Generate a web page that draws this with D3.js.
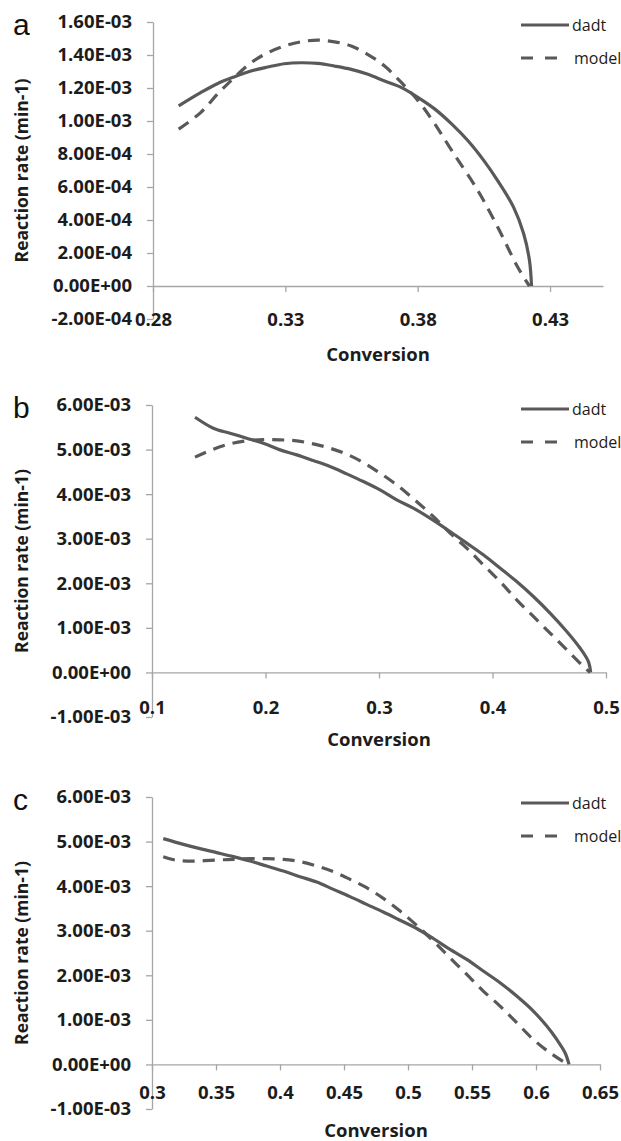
<!DOCTYPE html>
<html>
<head>
<meta charset="utf-8">
<script src="https://cdn.jsdelivr.net/npm/d3@7"></script>
<style>
  html, body { margin: 0; padding: 0; background: #fff; }
  svg { display: block; }
  .tick text { font-family: "Open Sans", sans-serif; font-weight: 700; fill: #1c1c1c; }
</style>
</head>
<body>
<svg id="chart" width="621" height="1141"></svg>
<script>
// panel a: [conversion, reaction rate]
const aDadt = [
  [0.2897, 1.092e-3], [0.2980, 1.172e-3], [0.3043, 1.226e-3], [0.3106, 1.267e-3],
  [0.3170, 1.303e-3], [0.3233, 1.327e-3], [0.3296, 1.347e-3], [0.3359, 1.353e-3],
  [0.3423, 1.349e-3], [0.3486, 1.333e-3], [0.3549, 1.313e-3], [0.3612, 1.283e-3],
  [0.3675, 1.242e-3], [0.3739, 1.202e-3], [0.3802, 1.142e-3], [0.3865, 1.072e-3],
  [0.3929, 0.981e-3], [0.3990, 0.880e-3], [0.4050, 0.760e-3], [0.4102, 0.639e-3],
  [0.4162, 0.478e-3], [0.4200, 0.318e-3], [0.4222, 0.157e-3], [0.4230, 0]
];
const aModel = [
  [0.2897, 0.951e-3], [0.2980, 1.051e-3], [0.3043, 1.162e-3], [0.3106, 1.262e-3],
  [0.3170, 1.353e-3], [0.3233, 1.413e-3], [0.3296, 1.454e-3], [0.3359, 1.480e-3],
  [0.3423, 1.490e-3], [0.3486, 1.480e-3], [0.3549, 1.454e-3], [0.3612, 1.403e-3],
  [0.3675, 1.333e-3], [0.3739, 1.232e-3], [0.3802, 1.122e-3], [0.3865, 0.981e-3],
  [0.3929, 0.820e-3], [0.4027, 0.579e-3], [0.4102, 0.358e-3], [0.4177, 0.117e-3],
  [0.4222, 0]
];
const aYTicks = [-2e-4, 0, 2e-4, 4e-4, 6e-4, 8e-4, 10e-4, 12e-4, 14e-4, 16e-4];
const aXTicks = [0.28, 0.33, 0.38, 0.43];

// panel b
const bDadt = [
  [0.1379, 5.726e-3], [0.1540, 5.480e-3], [0.1687, 5.368e-3], [0.1834, 5.256e-3],
  [0.1981, 5.143e-3], [0.2128, 4.993e-3], [0.2275, 4.881e-3], [0.2421, 4.753e-3],
  [0.2568, 4.619e-3], [0.2715, 4.455e-3], [0.2862, 4.283e-3], [0.3009, 4.096e-3],
  [0.3156, 3.872e-3], [0.3302, 3.686e-3], [0.3449, 3.462e-3], [0.3626, 3.161e-3],
  [0.3773, 2.901e-3], [0.3919, 2.639e-3], [0.4066, 2.341e-3], [0.4213, 2.040e-3],
  [0.4360, 1.704e-3], [0.4507, 1.332e-3], [0.4654, 0.919e-3], [0.4771, 0.547e-3],
  [0.4844, 0.247e-3], [0.4865, 0]
];
const bModel = [
  [0.1379, 4.830e-3], [0.1540, 5.009e-3], [0.1687, 5.128e-3], [0.1834, 5.195e-3],
  [0.1981, 5.224e-3], [0.2128, 5.218e-3], [0.2275, 5.195e-3], [0.2421, 5.128e-3],
  [0.2568, 5.031e-3], [0.2715, 4.897e-3], [0.2862, 4.709e-3], [0.3009, 4.471e-3],
  [0.3156, 4.209e-3], [0.3302, 3.900e-3], [0.3478, 3.500e-3], [0.3626, 3.126e-3],
  [0.3773, 2.789e-3], [0.3919, 2.415e-3], [0.4066, 2.040e-3], [0.4213, 1.630e-3],
  [0.4360, 1.256e-3], [0.4507, 0.883e-3], [0.4654, 0.509e-3], [0.4800, 0.135e-3],
  [0.4859, 0]
];
const bYTicks = [-1e-3, 0, 1e-3, 2e-3, 3e-3, 4e-3, 5e-3, 6e-3];
const bXTicks = [0.1, 0.2, 0.3, 0.4, 0.5];

// panel c
const cDadt = [
  [0.3088, 5.066e-3], [0.3245, 4.938e-3], [0.3375, 4.841e-3], [0.3505, 4.752e-3],
  [0.3635, 4.662e-3], [0.3766, 4.563e-3], [0.3896, 4.451e-3], [0.4026, 4.339e-3],
  [0.4156, 4.213e-3], [0.4287, 4.092e-3], [0.4417, 3.928e-3], [0.4547, 3.764e-3],
  [0.4677, 3.591e-3], [0.4807, 3.419e-3], [0.4938, 3.235e-3], [0.5068, 3.050e-3],
  [0.5198, 2.825e-3], [0.5328, 2.581e-3], [0.5459, 2.357e-3], [0.5588, 2.095e-3],
  [0.5719, 1.833e-3], [0.5849, 1.534e-3], [0.5979, 1.197e-3], [0.6084, 0.860e-3],
  [0.6162, 0.561e-3], [0.6227, 0.262e-3], [0.6258, 0]
];
const cModel = [
  [0.3088, 4.662e-3], [0.3180, 4.586e-3], [0.3323, 4.563e-3], [0.3505, 4.586e-3],
  [0.3635, 4.602e-3], [0.3766, 4.617e-3], [0.3896, 4.617e-3], [0.4026, 4.602e-3],
  [0.4156, 4.550e-3], [0.4287, 4.451e-3], [0.4417, 4.325e-3], [0.4547, 4.153e-3],
  [0.4677, 3.966e-3], [0.4807, 3.726e-3], [0.4938, 3.440e-3], [0.5068, 3.120e-3],
  [0.5198, 2.768e-3], [0.5328, 2.395e-3], [0.5459, 2.020e-3], [0.5588, 1.646e-3],
  [0.5719, 1.309e-3], [0.5849, 0.936e-3], [0.5979, 0.561e-3], [0.6109, 0.262e-3],
  [0.6240, 0.020e-3], [0.6258, 0]
];
const cYTicks = [-1e-3, 0, 1e-3, 2e-3, 3e-3, 4e-3, 5e-3, 6e-3];
const cXTicks = [0.3, 0.35, 0.4, 0.45, 0.5, 0.55, 0.6, 0.65];

const seriesNames = ['dadt', 'model'];

const LINE = '#595959';
const AXIS = '#a6a6a6';
const TEXT = '#1c1c1c';
const FONT = '"Open Sans", sans-serif';

// layout of each panel in page pixels
const panels = [
  { letter: 'a', dadt: aDadt, model: aModel, yTicks: aYTicks, xTicks: aXTicks,
    xDomain: [0.28, 0.45], left: 153, right: 603, top: 22, bottom: 319,
    labelDy: 34, titleY: 355, legendY: 25, fmt: d3.format('.2f') },
  { letter: 'b', dadt: bDadt, model: bModel, yTicks: bYTicks, xTicks: bXTicks,
    xDomain: [0.1, 0.5], left: 152, right: 606, top: 405, bottom: 717,
    labelDy: 35, titleY: 740, legendY: 409, fmt: d3.format('.1f') },
  { letter: 'c', dadt: cDadt, model: cModel, yTicks: cYTicks, xTicks: cXTicks,
    xDomain: [0.3, 0.65], left: 152, right: 600, top: 797, bottom: 1109,
    labelDy: 28, titleY: 1131, legendY: 803, fmt: d3.format('~g') }
];

function sci(v) {
  if (Math.abs(v) < 1e-12) return '0.00E+00';
  const [m, e] = v.toExponential(2).split('e');
  const n = +e;
  return m + 'E' + (n < 0 ? '-' : '+') + String(Math.abs(n)).padStart(2, '0');
}

const svg = d3.select('#chart');

panels.forEach(p => {
  const g = svg.append('g');
  const yDomain = [p.yTicks[0], p.yTicks[p.yTicks.length - 1]];
  const x = d3.scaleLinear().domain(p.xDomain).range([p.left, p.right]);
  const y = d3.scaleLinear().domain(yDomain).range([p.bottom, p.top]);

  // y axis
  const yAxis = g.append('g')
    .attr('transform', `translate(${p.left},0)`)
    .call(d3.axisLeft(y).tickValues(p.yTicks).tickFormat(sci).tickSizeInner(6).tickSizeOuter(0).tickPadding(15));
  yAxis.select('.domain').attr('stroke', AXIS).attr('stroke-width', 1.3);
  yAxis.selectAll('.tick line').attr('stroke', AXIS).attr('stroke-width', 1.3);
  yAxis.selectAll('.tick text').attr('font-size', 18.5).attr('fill', TEXT);

  // x axis sits at zero, labels low
  const xAxis = g.append('g')
    .attr('transform', `translate(0,${y(0)})`)
    .call(d3.axisBottom(x).tickValues(p.xTicks).tickFormat(p.fmt).tickSizeInner(6).tickSizeOuter(0));
  xAxis.select('.domain').attr('stroke', AXIS).attr('stroke-width', 1.3);
  xAxis.selectAll('.tick line').attr('stroke', AXIS).attr('stroke-width', 1.3);
  xAxis.selectAll('.tick text')
    .attr('y', p.labelDy).attr('dy', '0.35em')
    .attr('font-size', 18.5).attr('fill', TEXT);

  const line = d3.line()
    .x(d => x(d[0]))
    .y(d => y(d[1]))
    .curve(d3.curveCatmullRom.alpha(0.5));

  g.append('path').datum(p.model)
    .attr('d', line)
    .attr('fill', 'none')
    .attr('stroke', LINE)
    .attr('stroke-width', 3.2)
    .attr('stroke-dasharray', '12,8');

  g.append('path').datum(p.dadt)
    .attr('d', line)
    .attr('fill', 'none')
    .attr('stroke', LINE)
    .attr('stroke-width', 3.2);

  // axis titles
  g.append('text')
    .attr('x', (p.left + p.right) / 2)
    .attr('y', p.titleY)
    .attr('dy', '0.35em')
    .attr('text-anchor', 'middle')
    .attr('font-family', FONT)
    .attr('font-weight', 700)
    .attr('font-size', 18.5)
    .attr('fill', TEXT)
    .text('Conversion');

  g.append('text')
    .attr('transform', `translate(22,${(p.top + p.bottom) / 2}) rotate(-90)`)
    .attr('dy', '0.35em')
    .attr('text-anchor', 'middle')
    .attr('font-family', FONT)
    .attr('font-weight', 700)
    .attr('font-size', 17.5)
    .attr('fill', TEXT)
    .text('Reaction rate (min-1)');

  // panel letter
  g.append('text')
    .attr('x', 13)
    .attr('y', p.top + 2)
    .attr('dy', '0.35em')
    .attr('font-family', '"Liberation Sans", Arial, sans-serif')
    .attr('font-size', 30)
    .attr('fill', '#111')
    .text(p.letter);

  // legend
  const legend = g.append('g');
  seriesNames.forEach((name, i) => {
    const ly = p.legendY + i * 33;
    legend.append('line')
      .attr('x1', 521).attr('x2', i === 0 ? 569 : 560)
      .attr('y1', ly).attr('y2', ly)
      .attr('stroke', LINE)
      .attr('stroke-width', 3.2)
      .attr('stroke-dasharray', i === 0 ? null : '12,12');
    legend.append('text')
      .attr('x', i === 0 ? 572 : 574)
      .attr('y', ly)
      .attr('dy', '0.35em')
      .attr('font-family', FONT)
      .attr('font-size', 16)
      .attr('fill', TEXT)
      .text(name);
  });
});
</script>
</body>
</html>
